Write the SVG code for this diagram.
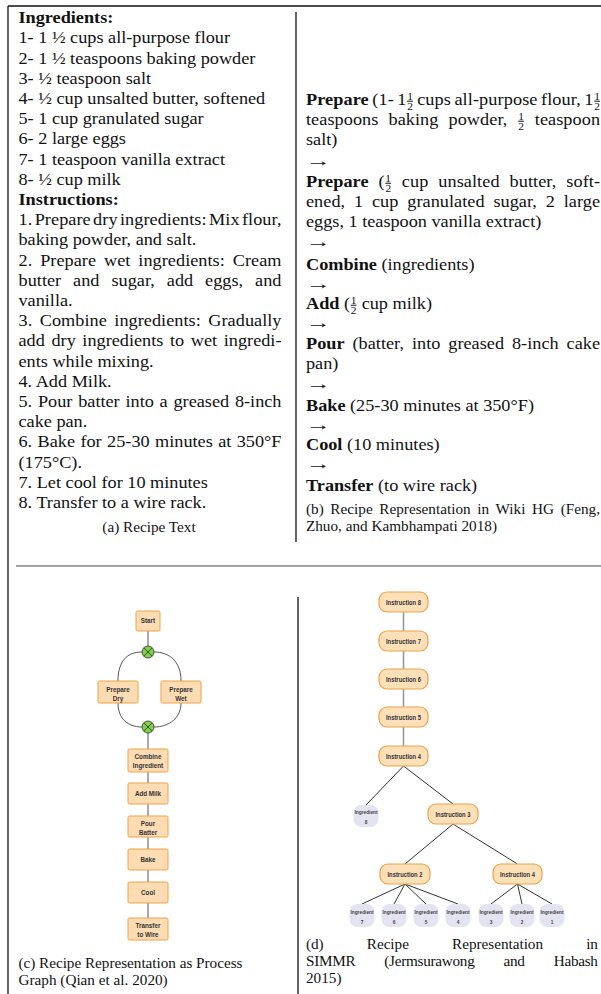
<svg xmlns="http://www.w3.org/2000/svg" width="601" height="994" viewBox="0 0 601 994">
<style>
  .t { font-family: "Liberation Serif", "Times New Roman", serif; font-size: 16px; fill: #111; }
  .b { font-weight: bold; }
  .cap { font-size: 14.5px; }
  .fn { font-size: 10px; text-decoration: underline; }
  .fd { font-size: 10px; }
  .frame { stroke: #111; stroke-width: 1.3; fill: none; }
  .rule { stroke: #444; stroke-width: 1; fill: none; }
  .box { fill: #fddcb3; stroke: #efa247; stroke-width: 1; }
  .gl { font-family: "Liberation Sans", Arial, sans-serif; font-weight: bold; font-size: 6.3px; fill: #333; text-anchor: middle; }
  .flow { stroke: #444; stroke-width: 0.9; fill: none; }
  .gate { fill: #7fcf48; stroke: #333; stroke-width: 0.8; }
  .gx { stroke: #333; stroke-width: 0.8; }
  .pill { fill: #fde0b8; stroke: #eea148; stroke-width: 1.2; }
  .ing { fill: #e4e3f1; }
  .il { font-family: "Liberation Sans", Arial, sans-serif; font-weight: bold; font-size: 7.5px; fill: #333; text-anchor: middle; }
  .ig { font-family: "Liberation Sans", Arial, sans-serif; font-weight: bold; font-size: 4.8px; fill: #444; text-anchor: middle; }
  .chain { stroke: #9a9a9a; stroke-width: 1.6; fill: none; }
  .tree { stroke: #333; stroke-width: 1; fill: none; }
</style>

<!-- panel frame -->
<g id="frame">
  <line class="frame" x1="8" y1="6" x2="601" y2="6"/>
  <line class="frame" x1="8" y1="6" x2="8" y2="994"/>
  <line class="frame" x1="296" y1="12" x2="296" y2="542"/>
  <line class="rule" x1="16" y1="566" x2="601" y2="566"/>
  <line class="frame" x1="298" y1="597" x2="298" y2="994"/>
</g>

<!-- text panels, set in a slightly widened serif -->
<g transform="scale(1.14 1)">
  <g id="recipe-text">
    <text class="t b" x="16.23" y="23.3">Ingredients:</text>
    <text class="t" x="16.23" y="43.5">1- 1 ½ cups all-purpose flour</text>
    <text class="t" x="16.23" y="63.7">2- 1 ½ teaspoons baking powder</text>
    <text class="t" x="16.23" y="83.9">3- ½ teaspoon salt</text>
    <text class="t" x="16.23" y="104.1">4- ½ cup unsalted butter, softened</text>
    <text class="t" x="16.23" y="124.3">5- 1 cup granulated sugar</text>
    <text class="t" x="16.23" y="144.5">6- 2 large eggs</text>
    <text class="t" x="16.23" y="164.7">7- 1 teaspoon vanilla extract</text>
    <text class="t" x="16.23" y="184.9">8- ½ cup milk</text>
    <text class="t b" x="16.23" y="205.1">Instructions:</text>
    <text class="t" x="16.23" y="225.3" word-spacing="-1.94" textLength="230.7">1. Prepare dry ingredients: Mix flour,</text>
    <text class="t" x="16.23" y="245.5">baking powder, and salt.</text>
    <text class="t" x="16.23" y="265.7" word-spacing="2.9" textLength="230.7">2. Prepare wet ingredients: Cream</text>
    <text class="t" x="16.23" y="285.9" word-spacing="6.42" textLength="230.7">butter and sugar, add eggs, and</text>
    <text class="t" x="16.23" y="306.1">vanilla.</text>
    <text class="t" x="16.23" y="326.3" word-spacing="2.53" textLength="230.7">3. Combine ingredients: Gradually</text>
    <text class="t" x="16.23" y="346.5" word-spacing="1.8" textLength="230.7">add dry ingredients to wet ingredi-</text>
    <text class="t" x="16.23" y="366.7">ents while mixing.</text>
    <text class="t" x="16.23" y="386.9">4. Add Milk.</text>
    <text class="t" x="16.23" y="407.1" word-spacing="1.05" textLength="230.7">5. Pour batter into a greased 8-inch</text>
    <text class="t" x="16.23" y="427.3">cake pan.</text>
    <text class="t" x="16.23" y="447.5" word-spacing="0.72" textLength="230.7">6. Bake for 25-30 minutes at 350°F</text>
    <text class="t" x="16.23" y="467.7">(175°C).</text>
    <text class="t" x="16.23" y="487.9">7. Let cool for 10 minutes</text>
    <text class="t" x="16.23" y="508.1">8. Transfer to a wire rack.</text>
  </g>

  <g id="wiki-hg">
    <text class="t" x="268.42" y="105" word-spacing="-1.08" textLength="257.9"><tspan class="b">Prepare</tspan> (1- 1<tspan class="fn" dx="0.6" dy="-5.2">1</tspan><tspan class="fd" dx="-5" dy="9.8">2</tspan><tspan dx="0.6" dy="-4.6"> cups all-purpose flour, 1</tspan><tspan class="fn" dx="0.6" dy="-5.2">1</tspan><tspan class="fd" dx="-5" dy="9.8">2</tspan></text>
    <text class="t" x="268.42" y="125" word-spacing="4.8" textLength="257.9">teaspoons baking powder, <tspan class="fn" dx="0.6" dy="-5.2">1</tspan><tspan class="fd" dx="-5" dy="9.8">2</tspan><tspan dx="0.6" dy="-4.6"> teaspoon</tspan></text>
    <text class="t" x="268.42" y="145">salt)</text>
    <text class="t" x="268.42" y="166" textLength="22" lengthAdjust="spacingAndGlyphs">→</text>
    <text class="t" x="268.42" y="187" word-spacing="4.66" textLength="257.9"><tspan class="b">Prepare</tspan> (<tspan class="fn" dx="0.6" dy="-5.2">1</tspan><tspan class="fd" dx="-5" dy="9.8">2</tspan><tspan dx="0.6" dy="-4.6"> cup unsalted butter, soft-</tspan></text>
    <text class="t" x="268.42" y="207" word-spacing="3.73" textLength="257.9">ened, 1 cup granulated sugar, 2 large</text>
    <text class="t" x="268.42" y="227">eggs, 1 teaspoon vanilla extract)</text>
    <text class="t" x="268.42" y="247" textLength="22" lengthAdjust="spacingAndGlyphs">→</text>
    <text class="t" x="268.42" y="270"><tspan class="b">Combine</tspan> (ingredients)</text>
    <text class="t" x="268.42" y="289" textLength="22" lengthAdjust="spacingAndGlyphs">→</text>
    <text class="t" x="268.42" y="309"><tspan class="b">Add</tspan> (<tspan class="fn" dx="0.6" dy="-5.2">1</tspan><tspan class="fd" dx="-5" dy="9.8">2</tspan><tspan dx="0.6" dy="-4.6"> cup milk)</tspan></text>
    <text class="t" x="268.42" y="328" textLength="22" lengthAdjust="spacingAndGlyphs">→</text>
    <text class="t" x="268.42" y="349" word-spacing="2.9" textLength="257.9"><tspan class="b">Pour</tspan> (batter, into greased 8-inch cake</text>
    <text class="t" x="268.42" y="369">pan)</text>
    <text class="t" x="268.42" y="389" textLength="22" lengthAdjust="spacingAndGlyphs">→</text>
    <text class="t" x="268.42" y="411"><tspan class="b">Bake</tspan> (25-30 minutes at 350°F)</text>
    <text class="t" x="268.42" y="430" textLength="22" lengthAdjust="spacingAndGlyphs">→</text>
    <text class="t" x="268.42" y="450"><tspan class="b">Cool</tspan> (10 minutes)</text>
    <text class="t" x="268.42" y="469" textLength="22" lengthAdjust="spacingAndGlyphs">→</text>
    <text class="t" x="268.42" y="491"><tspan class="b">Transfer</tspan> (to wire rack)</text>
  </g>
</g>

<!-- sub-figure captions -->
<g id="captions" transform="scale(1.05 1)">
  <text class="t cap" x="141.9" y="532" text-anchor="middle">(a) Recipe Text</text>
  <text class="t cap" x="291.4" y="514" word-spacing="2.7" textLength="280">(b) Recipe Representation in Wiki HG (Feng,</text>
  <text class="t cap" x="291.4" y="531">Zhuo, and Kambhampati 2018)</text>
  <text class="t cap" x="17.62" y="968" textLength="213.3">(c) Recipe Representation as Process</text>
  <text class="t cap" x="17.62" y="985">Graph (Qian et al. 2020)</text>
  <text class="t cap" x="291.4" y="949" word-spacing="37.5" textLength="278.1">(d) Recipe Representation in</text>
  <text class="t cap" x="291.4" y="966" word-spacing="24.3" textLength="278.1">SIMMR (Jermsurawong and Habash</text>
  <text class="t cap" x="291.4" y="983">2015)</text>
</g>

<!-- process graph -->
<g id="process-graph">
  <g id="pg-connectors">
    <line class="flow" x1="148" y1="631" x2="148" y2="646"/>
    <path class="flow" d="M142,652 C127,652 118,661 118,681"/>
    <path class="flow" d="M154,652 C169,652 181,661 181,681"/>
    <path class="flow" d="M118,703 C118,718 127,727 142,727"/>
    <path class="flow" d="M181,703 C181,718 169,727 154,727"/>
    <line class="flow" x1="148" y1="733" x2="148" y2="749"/>
    <line class="flow" x1="148" y1="772" x2="148" y2="783"/>
    <line class="flow" x1="148" y1="804" x2="148" y2="816"/>
    <line class="flow" x1="148" y1="837" x2="148" y2="849"/>
    <line class="flow" x1="148" y1="870" x2="148" y2="882"/>
    <line class="flow" x1="148" y1="903" x2="148" y2="918"/>
  </g>
  <g id="pg-start"><rect class="box" x="136" y="611" width="24" height="20" rx="1.5"/><text class="gl" x="148" y="623">Start</text></g>
  <g id="pg-split"><circle class="gate" cx="148" cy="652" r="6"/><path class="gx" d="M143.8,647.8 L152.2,656.2 M152.2,647.8 L143.8,656.2"/></g>
  <g id="pg-dry"><rect class="box" x="98" y="681" width="40" height="22" rx="1.5"/><text class="gl" x="118" y="692">Prepare</text><text class="gl" x="118" y="700.5">Dry</text></g>
  <g id="pg-wet"><rect class="box" x="161" y="681" width="40" height="22" rx="1.5"/><text class="gl" x="181" y="692">Prepare</text><text class="gl" x="181" y="700.5">Wet</text></g>
  <g id="pg-join"><circle class="gate" cx="148" cy="727" r="6"/><path class="gx" d="M143.8,722.8 L152.2,731.2 M152.2,722.8 L143.8,731.2"/></g>
  <g id="pg-combine"><rect class="box" x="128" y="749" width="40" height="23" rx="1.5"/><text class="gl" x="148" y="759">Combine</text><text class="gl" x="148" y="768">Ingredient</text></g>
  <g id="pg-milk"><rect class="box" x="128" y="783" width="40" height="21" rx="1.5"/><text class="gl" x="148" y="795.5">Add Milk</text></g>
  <g id="pg-pour"><rect class="box" x="128" y="816" width="40" height="21" rx="1.5"/><text class="gl" x="148" y="825.5">Pour</text><text class="gl" x="148" y="834.5">Batter</text></g>
  <g id="pg-bake"><rect class="box" x="128" y="849" width="40" height="21" rx="1.5"/><text class="gl" x="148" y="861.5">Bake</text></g>
  <g id="pg-cool"><rect class="box" x="128" y="882" width="40" height="21" rx="1.5"/><text class="gl" x="148" y="894.5">Cool</text></g>
  <g id="pg-transfer"><rect class="box" x="128" y="918" width="40" height="22" rx="1.5"/><text class="gl" x="148" y="928">Transfer</text><text class="gl" x="148" y="937">to Wire</text></g>
</g>

<!-- SIMMR tree -->
<g id="simmr-tree">
  <g id="tree-connectors">
    <line class="chain" x1="403.5" y1="612" x2="403.5" y2="631"/>
    <line class="chain" x1="403.5" y1="651" x2="403.5" y2="669"/>
    <line class="chain" x1="403.5" y1="689" x2="403.5" y2="707"/>
    <line class="chain" x1="403.5" y1="727" x2="403.5" y2="746"/>
    <line class="tree" x1="403.5" y1="766" x2="366" y2="805"/>
    <line class="tree" x1="403.5" y1="766" x2="453" y2="804"/>
    <line class="tree" x1="453" y1="824" x2="405" y2="864"/>
    <line class="tree" x1="453" y1="824" x2="517.5" y2="864"/>
    <line class="tree" x1="405" y1="884" x2="362" y2="904"/>
    <line class="tree" x1="405" y1="884" x2="394" y2="904"/>
    <line class="tree" x1="405" y1="884" x2="426" y2="904"/>
    <line class="tree" x1="405" y1="884" x2="458" y2="904"/>
    <line class="tree" x1="517.5" y1="884" x2="491" y2="904"/>
    <line class="tree" x1="517.5" y1="884" x2="522" y2="904"/>
    <line class="tree" x1="517.5" y1="884" x2="552" y2="904"/>
  </g>
  <g id="instr-8"><rect class="pill" x="379" y="592" width="49" height="20" rx="8"/><text class="il" x="403.5" y="604.7" textLength="35" lengthAdjust="spacingAndGlyphs">Instruction 8</text></g>
  <g id="instr-7"><rect class="pill" x="379" y="631" width="49" height="20" rx="8"/><text class="il" x="403.5" y="643.7" textLength="35" lengthAdjust="spacingAndGlyphs">Instruction 7</text></g>
  <g id="instr-6"><rect class="pill" x="379" y="669" width="49" height="20" rx="8"/><text class="il" x="403.5" y="681.7" textLength="35" lengthAdjust="spacingAndGlyphs">Instruction 6</text></g>
  <g id="instr-5"><rect class="pill" x="379" y="707" width="49" height="20" rx="8"/><text class="il" x="403.5" y="719.7" textLength="35" lengthAdjust="spacingAndGlyphs">Instruction 5</text></g>
  <g id="instr-4"><rect class="pill" x="379" y="746" width="49" height="20" rx="8"/><text class="il" x="403.5" y="758.7" textLength="35" lengthAdjust="spacingAndGlyphs">Instruction 4</text></g>
  <g id="ingr-8"><rect class="ing" x="353.5" y="805" width="25" height="22" rx="8"/><text class="ig" x="366" y="814">Ingredient</text><text class="ig" x="366" y="823.5">8</text></g>
  <g id="instr-3"><rect class="pill" x="428" y="804" width="50" height="20" rx="8"/><text class="il" x="453" y="816.7" textLength="35" lengthAdjust="spacingAndGlyphs">Instruction 3</text></g>
  <g id="instr-2"><rect class="pill" x="380" y="864" width="50" height="20" rx="8"/><text class="il" x="405" y="876.7" textLength="35" lengthAdjust="spacingAndGlyphs">Instruction 2</text></g>
  <g id="instr-4b"><rect class="pill" x="493" y="864" width="49" height="20" rx="8"/><text class="il" x="517.5" y="876.7" textLength="35" lengthAdjust="spacingAndGlyphs">Instruction 4</text></g>
  <g id="ingr-7"><rect class="ing" x="349.5" y="904" width="25" height="23" rx="8"/><text class="ig" x="362" y="914">Ingredient</text><text class="ig" x="362" y="923.5">7</text></g>
  <g id="ingr-6"><rect class="ing" x="381.5" y="904" width="25" height="23" rx="8"/><text class="ig" x="394" y="914">Ingredient</text><text class="ig" x="394" y="923.5">6</text></g>
  <g id="ingr-5"><rect class="ing" x="413.5" y="904" width="25" height="23" rx="8"/><text class="ig" x="426" y="914">Ingredient</text><text class="ig" x="426" y="923.5">5</text></g>
  <g id="ingr-4"><rect class="ing" x="445.5" y="904" width="25" height="23" rx="8"/><text class="ig" x="458" y="914">Ingredient</text><text class="ig" x="458" y="923.5">4</text></g>
  <g id="ingr-3"><rect class="ing" x="478.5" y="904" width="25" height="23" rx="8"/><text class="ig" x="491" y="914">Ingredient</text><text class="ig" x="491" y="923.5">3</text></g>
  <g id="ingr-2"><rect class="ing" x="509.5" y="904" width="25" height="23" rx="8"/><text class="ig" x="522" y="914">Ingredient</text><text class="ig" x="522" y="923.5">2</text></g>
  <g id="ingr-1"><rect class="ing" x="539.5" y="904" width="25" height="23" rx="8"/><text class="ig" x="552" y="914">Ingredient</text><text class="ig" x="552" y="923.5">1</text></g>
</g>
</svg>
